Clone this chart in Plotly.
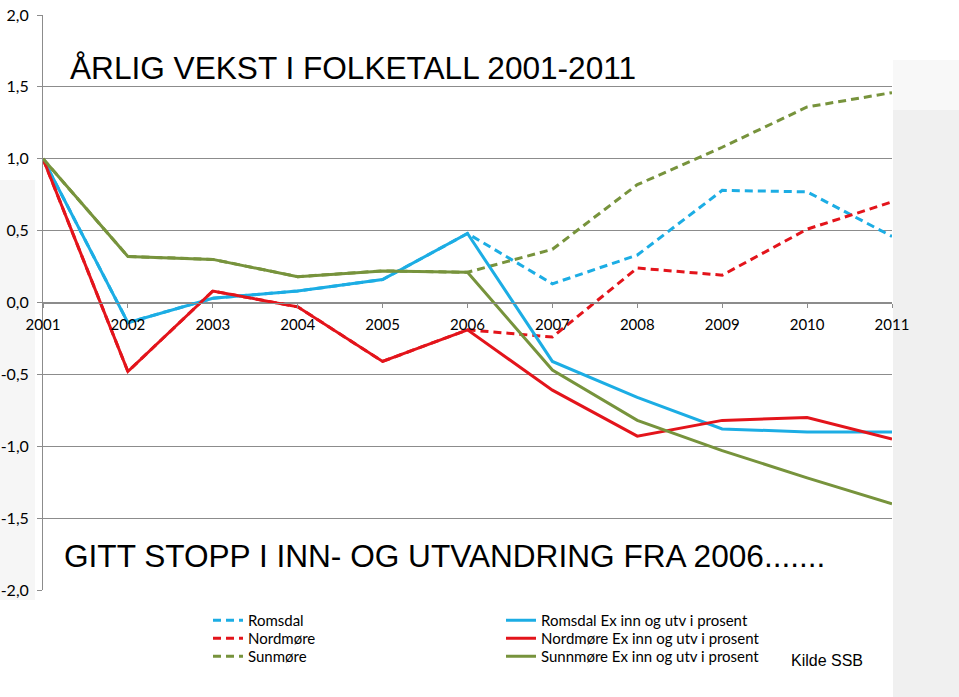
import plotly.graph_objects as go

years = [2001, 2002, 2003, 2004, 2005, 2006, 2007, 2008, 2009, 2010, 2011]

# Projections (dashed)
romsdal = [1.0, -0.14, 0.03, 0.08, 0.16, 0.48, 0.13, 0.33, 0.78, 0.77, 0.46]
nordmore = [1.0, -0.48, 0.08, -0.03, -0.41, -0.19, -0.24, 0.24, 0.19, 0.51, 0.70]
sunmore = [1.0, 0.32, 0.30, 0.18, 0.22, 0.21, 0.37, 0.82, 1.08, 1.36, 1.46]

# Ex inn og utvandring (solid)
romsdal_ex = [1.0, -0.14, 0.03, 0.08, 0.16, 0.48, -0.41, -0.66, -0.88, -0.90, -0.90]
nordmore_ex = [1.0, -0.48, 0.08, -0.03, -0.41, -0.19, -0.61, -0.93, -0.82, -0.80, -0.95]
sunnmore_ex = [1.0, 0.32, 0.30, 0.18, 0.22, 0.21, -0.47, -0.82, -1.03, -1.22, -1.40]

y_tickvals = [2.0, 1.5, 1.0, 0.5, 0.0, -0.5, -1.0, -1.5, -2.0]
y_ticktext = ["2,0", "1,5", "1,0", "0,5", "0,0", "-0,5", "-1,0", "-1,5", "-2,0"]

BLUE = "#1CADE4"
RED = "#E3141B"
GREEN = "#77933C"

W, H = 959, 697
ML, MR, MT, MB = 43, 67, 15, 107
PW = W - ML - MR
PH = H - MT - MB

fig = go.Figure()

dashed = [("Romsdal", romsdal, BLUE), ("Nordmøre", nordmore, RED), ("Sunmøre", sunmore, GREEN)]
solid = [("Romsdal Ex inn og utv i prosent", romsdal_ex, BLUE),
         ("Nordmøre Ex inn og utv i prosent", nordmore_ex, RED),
         ("Sunnmøre Ex inn og utv i prosent", sunnmore_ex, GREEN)]

legend_names = ["legend", "legend2", "legend3", "legend4", "legend5", "legend6"]

for i, (name, vals, col) in enumerate(dashed):
    fig.add_trace(go.Scatter(x=years, y=vals, mode="lines", name=name,
                             line=dict(color=col, width=3, dash="8px,5px"),
                             legend=legend_names[i]))
for i, (name, vals, col) in enumerate(solid):
    fig.add_trace(go.Scatter(x=years, y=vals, mode="lines", name=name,
                             line=dict(color=col, width=3),
                             legend=legend_names[3 + i]))

font_tick = "Lato, 'Open Sans', sans-serif"
leg_font = dict(family=font_tick, size=15, color="black")
row_tops = [604, 622, 640]
legends = {}
for i in range(6):
    left = 208 if i < 3 else 501
    top = row_tops[i % 3]
    legends[legend_names[i]] = dict(
        xref="container", yref="container",
        x=left / W, y=1 - top / H, xanchor="left", yanchor="top",
        orientation="v", bgcolor="rgba(0,0,0,0)", borderwidth=0,
        font=leg_font, itemwidth=30,
    )

fig.update_layout(
    width=W, height=H,
    margin=dict(l=ML, r=MR, t=MT, b=MB, autoexpand=False),
    paper_bgcolor="white",
    plot_bgcolor="white",
    showlegend=True,
    font=dict(family=font_tick, size=15, color="black"),
    xaxis=dict(
        range=[2001, 2011],
        tickvals=years,
        ticktext=[str(y) for y in years],
        anchor="free", position=0.5,
        showline=True, linecolor="#8c8c8c", linewidth=1,
        ticks="outside", ticklen=4, tickcolor="#8c8c8c",
        showgrid=False, zeroline=False,
        tickfont=dict(family=font_tick, size=15, color="black"),
        ticklabelstandoff=4,
        automargin=False,
    ),
    yaxis=dict(
        range=[-2, 2],
        tickvals=y_tickvals,
        ticktext=y_ticktext,
        showline=True, linecolor="#8c8c8c", linewidth=1,
        ticks="outside", ticklen=5, tickcolor="#8c8c8c",
        showgrid=True, gridcolor="#8c8c8c", gridwidth=1,
        zeroline=False,
        tickfont=dict(family=font_tick, size=16, color="black"),
        ticklabelstandoff=5,
        automargin=False,
    ),
    shapes=[
        dict(type="rect", xref="paper", yref="paper",
             x0=1.0 + 1 / PW, x1=1.2, y0=-0.4, y1=1 - (110 - MT) / PH,
             fillcolor="#f0f0f0", line=dict(width=0), layer="below"),
        dict(type="rect", xref="paper", yref="paper",
             x0=1.0 + 1 / PW, x1=1.2, y0=1 - (110 - MT) / PH, y1=1 - (60 - MT) / PH,
             fillcolor="#f8f8f8", line=dict(width=0), layer="below"),
        dict(type="rect", xref="paper", yref="paper",
             x0=-0.06, x1=-8 / PW, y0=(MT + PH - 600) / PH, y1=1 - (180 - MT) / PH,
             fillcolor="#f6f6f6", line=dict(width=0), layer="below"),
    ],
    annotations=[
        dict(text="ÅRLIG VEKST I FOLKETALL 2001-2011", xref="paper", yref="paper",
             x=(68 - ML) / PW, y=1 - (68 - MT) / PH, xanchor="left", yanchor="middle",
             showarrow=False,
             font=dict(family="Liberation Sans, Arial, sans-serif", size=31.6, color="black")),
        dict(text="GITT STOPP I INN- OG UTVANDRING FRA 2006.......", xref="paper", yref="paper",
             x=(62 - ML) / PW, y=1 - (556 - MT) / PH, xanchor="left", yanchor="middle",
             showarrow=False,
             font=dict(family="Liberation Sans, Arial, sans-serif", size=31.6, color="black")),
        dict(text="Kilde SSB", xref="paper", yref="paper",
             x=(789 - ML) / PW, y=1 - (660 - MT) / PH, xanchor="left", yanchor="middle",
             showarrow=False,
             font=dict(family="Liberation Sans, Arial, sans-serif", size=16, color="black")),
    ],
    **legends,
)

fig.write_html("out.html", config={"displayModeBar": False},
               post_script="document.body.style.margin='0';")
